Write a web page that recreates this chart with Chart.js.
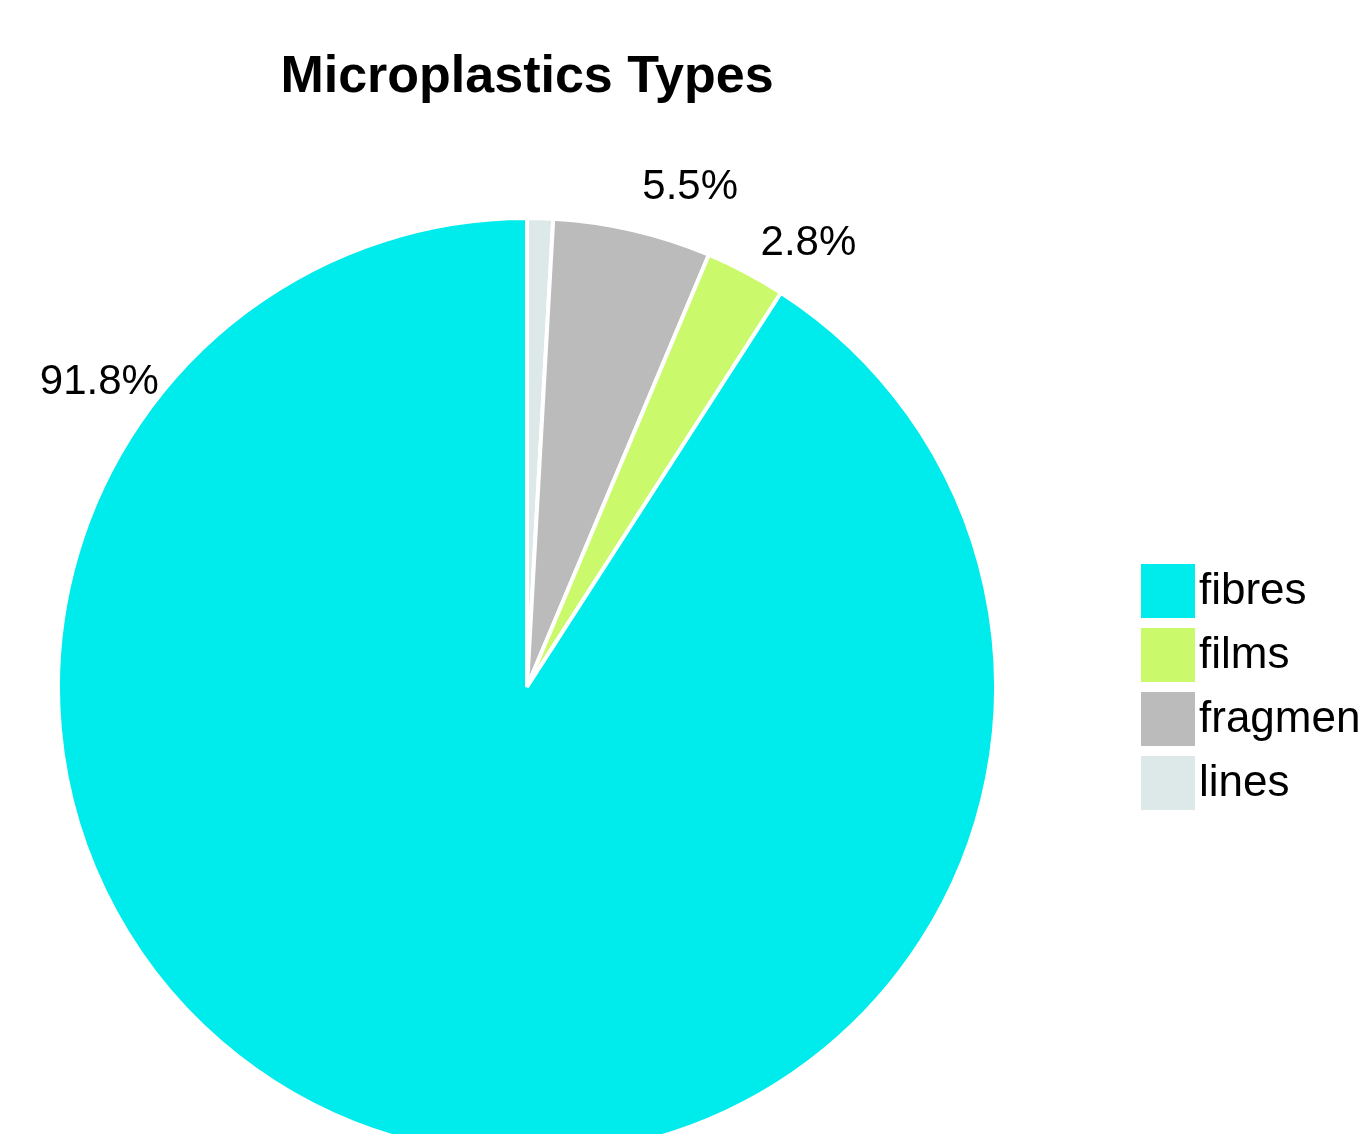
<!DOCTYPE html>
<html>
<head>
<meta charset="utf-8">
<title>Microplastics Types</title>
<script src="https://cdn.jsdelivr.net/npm/chart.js@4.4.0/dist/chart.umd.min.js"></script>
<style>
  html, body { margin:0; padding:0; background:#fff; overflow:hidden; width:1359px; height:1134px; }
  #chartPie { position:absolute; left:0; top:0; }
</style>
</head>
<body>
<canvas id="chartPie" width="1400" height="1158"></canvas>
<script>
// ---- data (clockwise from 12 o'clock) ----
const categories = ["lines", "fragments", "films", "fibres"];
const shares = [0.9, 5.5, 2.8, 91.8];
const sliceColors = ["#dde8e8", "#bbbbbb", "#cbf96c", "#00ebeb"];
// legend is listed the other way round
const legendOrder = ["fibres", "films", "fragments", "lines"];
// where the % labels sit (deg clockwise from top), null = no label
const labelAngles = [null, 18.1, 32.4, 305.5];

const FONT = "'Liberation Sans', Arial, Helvetica, sans-serif";

// percent labels outside the pie
const pctLabels = {
  id: "pctLabels",
  afterDatasetsDraw(chart) {
    const ctx = chart.ctx;
    const arcs = chart.getDatasetMeta(0).data;
    ctx.save();
    ctx.font = "42px " + FONT;
    ctx.fillStyle = "#000";
    ctx.textAlign = "center";
    ctx.textBaseline = "middle";
    arcs.forEach((arc, i) => {
      const deg = labelAngles[i];
      if (deg === null) return;
      const a = deg * Math.PI / 180;
      const r = arc.outerRadius * 1.12;
      ctx.fillText(shares[i].toFixed(1) + "%", arc.x + Math.sin(a) * r, arc.y - Math.cos(a) * r);
    });
    ctx.restore();
  }
};

// legend block on the right (runs off the page like the original)
const sideLegend = {
  id: "sideLegend",
  afterDraw(chart) {
    const ctx = chart.ctx;
    const left = 1141, top = 564, box = 54, step = 64;
    ctx.save();
    ctx.font = "44px " + FONT;
    ctx.textBaseline = "middle";
    ctx.textAlign = "left";
    legendOrder.forEach((name, k) => {
      const i = categories.indexOf(name);
      const y = top + k * step;
      ctx.fillStyle = sliceColors[i];
      ctx.fillRect(left, y, box, box);
      ctx.fillStyle = "#000";
      ctx.fillText(name, left + box + 4, y + box / 2 + 1);
    });
    ctx.restore();
  }
};

new Chart(document.getElementById("chartPie"), {
  type: "pie",
  data: {
    labels: categories,
    datasets: [{
      data: shares,
      backgroundColor: sliceColors,
      borderColor: "#ffffff",
      borderWidth: 4,
      hoverOffset: 0
    }]
  },
  options: {
    responsive: false,
    animation: false,
    layout: { padding: { left: 56, right: 402, top: 0, bottom: 0 } },
    plugins: {
      legend: { display: false },
      tooltip: { enabled: false },
      title: {
        display: true,
        text: "Microplastics Types",
        color: "#000",
        font: { family: FONT, size: 52, weight: "bold" },
        padding: { top: 46, bottom: 107.6 }
      }
    }
  },
  plugins: [pctLabels, sideLegend]
});
</script>
</body>
</html>
